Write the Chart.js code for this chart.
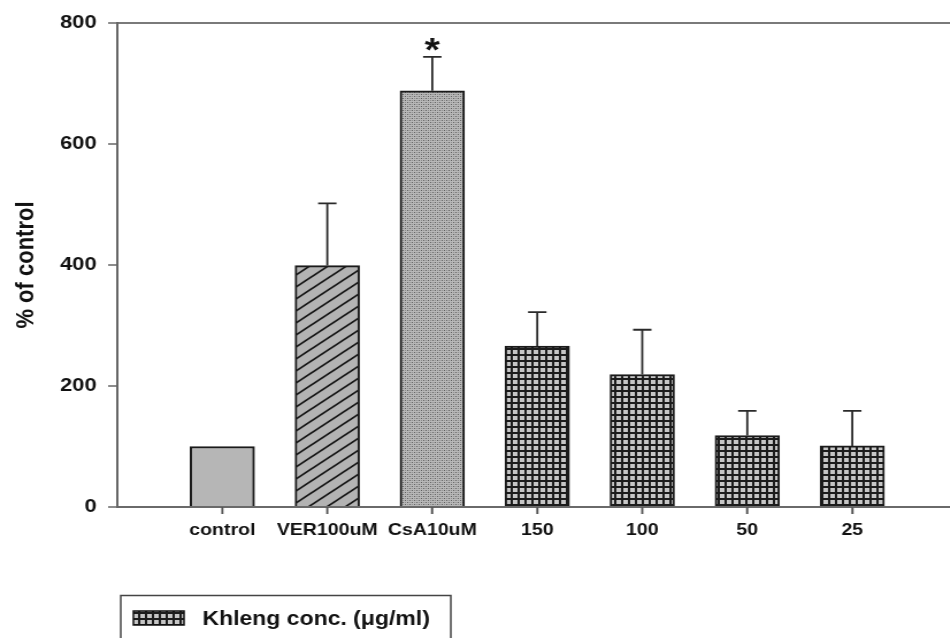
<!DOCTYPE html>
<html><head><meta charset="utf-8">
<script src="https://cdn.jsdelivr.net/npm/chart.js@4/dist/chart.umd.min.js"></script>
<style>
html,body{margin:0;padding:0;background:#fff;overflow:hidden;width:950px;height:638px;}
#wrap{width:826px;height:638px;transform:scaleX(1.15);transform-origin:0 0;}
canvas{display:block;}
</style></head><body>
<div id="wrap"><canvas id="c" width="826" height="638" style="width:826px;height:638px"></canvas></div>
<script>
const categories = ['control', 'VER100uM', 'CsA10uM', '150', '100', '50', '25'];
const values = [100, 399, 688, 266, 219, 118, 101];
const errors = [0, 103, 56, 56, 74, 41, 58];
const starMarks = ['', '', '*', '', '', '', ''];
const yTicks = [0, 200, 400, 600, 800];
const yTitle = '% of control';
const legendLabel = 'Khleng conc. (\u03bcg/ml)';
const fillKinds = ['solid', 'hatch', 'dots', 'grid', 'grid', 'grid', 'grid'];

const FONT = '"Liberation Sans", Arial, Helvetica, sans-serif';

function makePattern(kind) {
  const c = document.createElement('canvas');
  let g;
  if (kind === 'solid') return '#b6b6b6';
  if (kind === 'hatch') {
    const w = 16, h = 12;
    c.width = w; c.height = h; g = c.getContext('2d');
    g.fillStyle = '#b3b3b3'; g.fillRect(0, 0, w, h);
    g.strokeStyle = '#151515'; g.lineWidth = 1.7;
    for (let k = -1; k <= 1; k++) {
      g.beginPath(); g.moveTo(-2, h + k * h + 2 * h / w); g.lineTo(w + 2, k * h - 2 * h / w); g.stroke();
    }
  } else if (kind === 'dots') {
    c.width = 4; c.height = 4; g = c.getContext('2d');
    g.fillStyle = '#b8b8b8'; g.fillRect(0, 0, 4, 4);
    g.fillStyle = '#5e5e5e'; g.fillRect(0, 0, 1, 1); g.fillRect(2, 2, 1, 1);
    g.fillStyle = '#8e8e8e'; g.fillRect(2, 0, 1, 1); g.fillRect(0, 2, 1, 1);
  } else {
    c.width = 6; c.height = 6; g = c.getContext('2d');
    g.fillStyle = '#c6c6c6'; g.fillRect(0, 0, 6, 6);
    g.fillStyle = '#1c1c1c'; g.fillRect(0, 0, 6, 2); g.fillRect(0, 0, 2, 6);
  }
  return g.createPattern(c, 'repeat');
}

const fills = fillKinds.map(makePattern);

const overlay = {
  id: 'overlay',
  afterDraw(chart) {
    const ctx = chart.ctx, xs = chart.scales.x, ys = chart.scales.y;
    ctx.save();
    // category tick marks under the x axis
    ctx.strokeStyle = '#555';
    ctx.lineWidth = 1.5;
    categories.forEach((_, i) => {
      const px = xs.getPixelForValue(i);
      ctx.beginPath(); ctx.moveTo(px, xs.top); ctx.lineTo(px, xs.top + 7); ctx.stroke();
    });
    ctx.strokeStyle = '#2a2a2a';
    ctx.lineWidth = 1.8;
    values.forEach((v, i) => {
      const e = errors[i];
      if (!e) return;
      const px = xs.getPixelForValue(i);
      const y0 = ys.getPixelForValue(v), y1 = ys.getPixelForValue(v + e);
      ctx.beginPath();
      ctx.moveTo(px, y0); ctx.lineTo(px, y1);
      ctx.moveTo(px - 8, y1); ctx.lineTo(px + 8, y1);
      ctx.stroke();
    });
    ctx.fillStyle = '#111';
    ctx.font = 'bold 34px ' + FONT;
    ctx.textAlign = 'center';
    ctx.textBaseline = 'alphabetic';
    starMarks.forEach((s, i) => {
      if (!s) return;
      const top = ys.getPixelForValue(values[i] + errors[i]);
      const m = ctx.measureText(s);
      const cy = top - 12;
      const base = cy + (m.actualBoundingBoxAscent - m.actualBoundingBoxDescent) / 2;
      ctx.fillText(s, xs.getPixelForValue(i), base);
    });
    // legend box
    ctx.strokeStyle = '#444';
    ctx.lineWidth = 1.5;
    ctx.beginPath();
    ctx.moveTo(105, 660); ctx.lineTo(105, 595.5); ctx.lineTo(392, 595.5); ctx.lineTo(392, 660);
    ctx.stroke();
    ctx.fillStyle = fills[3];
    ctx.fillRect(116, 611, 44, 14);
    ctx.strokeStyle = '#111';
    ctx.lineWidth = 1.5;
    ctx.strokeRect(116, 611, 44, 14);
    ctx.fillStyle = '#111';
    ctx.font = 'bold 20px ' + FONT;
    ctx.textAlign = 'left';
    ctx.textBaseline = 'alphabetic';
    ctx.fillText(legendLabel, 176, 625);
    ctx.restore();
  }
};

new Chart(document.getElementById('c'), {
  type: 'bar',
  data: {
    datasets: [{
      data: values.map((v, i) => ({ x: i, y: v })),
      backgroundColor: fills,
      borderColor: '#1a1a1a',
      borderWidth: 2,
      barThickness: 56
    }]
  },
  options: {
    responsive: false,
    animation: false,
    devicePixelRatio: 1,
    layout: { padding: { top: 23, left: 0, right: 0, bottom: 0 } },
    plugins: { legend: { display: false }, tooltip: { enabled: false } },
    scales: {
      x: {
        type: 'linear',
        offset: false,
        min: -1,
        max: 6.93,
        afterBuildTicks: s => { s.ticks = categories.map((_, i) => ({ value: i })); },
        afterFit: s => { s.height = 131; },
        ticks: {
          autoSkip: false, maxRotation: 0, padding: 6, color: '#111',
          font: { family: FONT, size: 17, weight: 'bold' },
          callback: v => categories[v]
        },
        grid: { offset: false, drawOnChartArea: false, tickLength: 7, tickColor: '#555', tickWidth: 1.5 },
        border: { color: '#6a6a6a', width: 2 }
      },
      y: {
        min: 0, max: 800,
        afterBuildTicks: s => { s.ticks = yTicks.map(v => ({ value: v })); },
        afterFit: s => { s.width = 102; },
        ticks: { padding: 10, color: '#111', font: { family: FONT, size: 19, weight: 'bold' } },
        grid: {
          color: c => (c.tick && c.tick.value === 800) ? '#7a7a7a' : 'rgba(0,0,0,0)',
          lineWidth: 2, tickLength: 8, tickColor: '#666', tickWidth: 1.5
        },
        border: { color: '#666', width: 2 },
        title: {
          display: true, text: yTitle, color: '#111',
          font: { family: FONT, size: 22, weight: 'bold' },
          padding: { top: 10, bottom: 0 }
        }
      }
    }
  },
  plugins: [overlay]
});
</script>
</body></html>
